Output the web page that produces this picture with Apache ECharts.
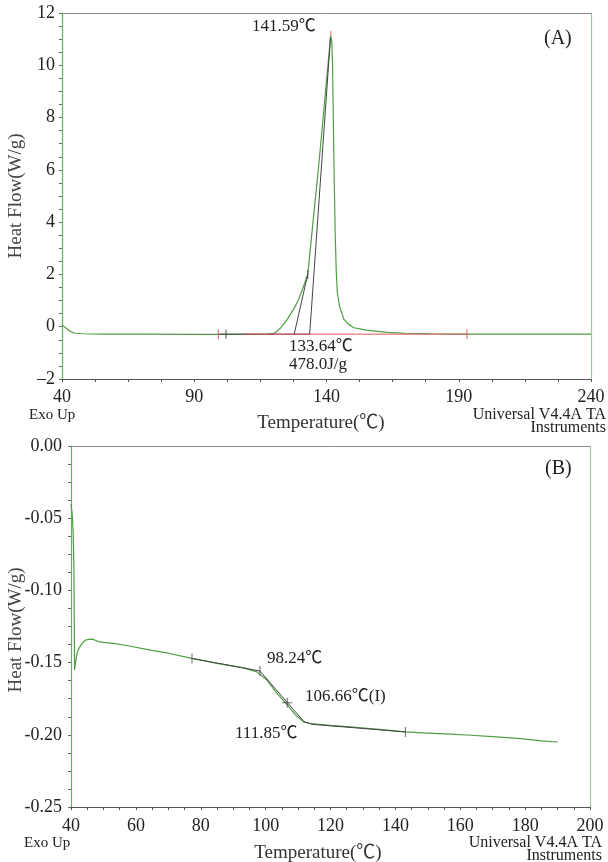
<!DOCTYPE html>
<html>
<head>
<meta charset="utf-8">
<script src="https://cdn.jsdelivr.net/npm/echarts@6/dist/echarts.min.js"></script>
<style>html,body{margin:0;padding:0;background:#fff}#c{width:608px;height:862px}</style>
</head>
<body>
<div id="c"></div>
<script>
// ---- Chart A data (Temperature °C, Heat Flow W/g) ----
const tempA = [40,40.5,41.5,43,45,48,55,70,90,110,118,120,121.2,122.5,123.6,125,126.5,128,129.4,131,132.9,134,135,136,137,138,139,140,141,141.6,142.0,142.3,142.8,143.3,143.7,144.1,145,146.6,148.5,150.4,155,163,170,179.4,190,240];
const heatA = [0.08,0.06,-0.05,-0.18,-0.25,-0.27,-0.28,-0.28,-0.29,-0.29,-0.28,-0.25,-0.18,-0.06,0.08,0.25,0.5,0.75,1.03,1.45,2.0,3.1,4.1,5.1,6.1,7.2,8.3,9.4,10.5,11.15,10.9,10.0,6.3,3.5,2.1,1.3,0.75,0.28,0.08,-0.04,-0.13,-0.22,-0.25,-0.27,-0.28,-0.28];
const onsetTangentA = [[133.64,-0.285],[141.5,11.05]];
const sideTangentA = [[127.8,-0.285],[132.9,2.0]];
const redBaseA = [[108.4,-0.285],[193.1,-0.285]];
const blackBaseA = [[99.1,-0.285],[133.64,-0.285]];
const redTicksA = [[99.1,-0.285],[193.1,-0.285]];
const blackTicksA = [[102,-0.285],[132.9,2.0]];
const peakA = [[141.59,11.2]];
const xTicksA = {min:40,max:240,interval:50};
const yTicksA = {min:-2,max:12,interval:2};

// ---- Chart B data ----
const tempB = [40.0,40.4,40.7,40.9,41.0,41.1,41.4,41.85,42.5,43.4,44.4,45.4,46.5,47.5,48.5,50,53.1,58,64.5,70,77.3,85,90,93.2,97.3,100.4,103.5,106.6,108.2,109.6,111.7,113.5,115.8,120,126.1,135,143,150,156.9,163.3,170,178.7,185,190];
const heatB = [-0.040,-0.048,-0.062,-0.085,-0.120,-0.155,-0.150,-0.1436,-0.140,-0.1367,-0.1345,-0.1339,-0.1337,-0.1345,-0.1355,-0.1360,-0.1367,-0.1385,-0.1413,-0.1435,-0.1471,-0.1506,-0.1524,-0.1537,-0.1564,-0.1621,-0.1713,-0.1790,-0.1835,-0.1870,-0.1910,-0.1920,-0.1926,-0.1935,-0.1945,-0.1962,-0.1980,-0.1988,-0.1996,-0.2003,-0.2013,-0.2026,-0.2042,-0.2050];
const tangentB1 = [[77.3,-0.1471],[98.24,-0.1558]];
const tangentB2 = [[98.24,-0.1558],[111.85,-0.1910]];
const tangentB3 = [[111.85,-0.1910],[114.5,-0.1928],[143.1,-0.1980]];
const vTicksB = [[77.3,-0.1471],[98.24,-0.1558],[106.66,-0.1778],[143.1,-0.1980]];
const hTicksB = [[106.66,-0.1778]];
const xTicksB = {min:40,max:200,interval:20};
const yTicksB = {min:-0.25,max:0,interval:0.05};

const FONT = "'Liberation Serif','Noto Sans CJK KR',serif";
const GREEN = '#4f9e43';
const chart = echarts.init(document.getElementById('c'));

function bottomX(grid, t, labelMargin){
  return {gridIndex:grid, type:'value', position:'bottom', min:t.min, max:t.max, interval:t.interval,
    axisLine:{show:true,onZero:false,lineStyle:{color:'#555',width:1}},
    axisTick:{show:true,length:3,lineStyle:{color:'#555'}},
    minorTick:{show:true,splitNumber:4,length:3,lineStyle:{color:'#555'}},
    splitLine:{show:false},
    axisLabel:{color:'#222',fontFamily:FONT,fontSize:18,margin:labelMargin}};
}
function topX(grid, t){
  return {gridIndex:grid, type:'value', position:'top', min:t.min, max:t.max,
    axisLine:{show:true,onZero:false,lineStyle:{color:'#8a8a8a',width:1}},
    axisTick:{show:false}, axisLabel:{show:false}, splitLine:{show:false}};
}
function leftY(grid, t, fmt, labelMargin){
  return {gridIndex:grid, type:'value', position:'left', min:t.min, max:t.max, interval:t.interval,
    axisLine:{show:true,onZero:false,lineStyle:{color:'#5cb85c',width:1.2}},
    axisTick:{show:true,length:3,lineStyle:{color:'#666'}},
    minorTick:{show:true,splitNumber:4,length:3,lineStyle:{color:'#666'}},
    splitLine:{show:false},
    axisLabel:{color:'#222',fontFamily:FONT,fontSize:18,margin:labelMargin,formatter:fmt}};
}
function rightY(grid, t){
  return {gridIndex:grid, type:'value', position:'right', min:t.min, max:t.max,
    axisLine:{show:true,onZero:false,lineStyle:{color:'#9ccb9a',width:1.2}},
    axisTick:{show:false}, axisLabel:{show:false}, splitLine:{show:false}};
}
const zip = (a,b)=>a.map((v,i)=>[v,b[i]]);
function lineS(xi, yi, data, color, w){
  return {type:'line', xAxisIndex:xi, yAxisIndex:yi, data:data, showSymbol:false, symbol:'none',
    lineStyle:{color:color,width:w}, silent:true, animation:false, z:3};
}
function tickS(xi, yi, data, color, size){
  return {type:'scatter', xAxisIndex:xi, yAxisIndex:yi, data:data, symbol:'rect', symbolSize:size,
    itemStyle:{color:color}, silent:true, animation:false, z:5};
}
function txt(x, y, s, opts){
  return Object.assign({type:'text', x:x, y:y, style:Object.assign({text:s, font:(opts&&opts.size||17)+'px '+FONT, fill:'#222', textAlign:'left', textVerticalAlign:'middle'}, opts&&opts.style||{})}, opts&&opts.extra||{});
}

const option = {
  animation:false,
  backgroundColor:'#fff',
  grid:[{left:62,top:13,width:529,height:366},{left:71,top:446,width:519,height:361}],
  xAxis:[bottomX(0,xTicksA,9), topX(0,xTicksA), bottomX(1,xTicksB,10), topX(1,xTicksB)],
  yAxis:[
    leftY(0,yTicksA,v=>v<0?'\u2013'+Math.abs(v):String(v),7), rightY(0,yTicksA),
    leftY(1,yTicksB,v=>Math.abs(v)<1e-9?'0.00':v.toFixed(2),9), rightY(1,yTicksB)
  ],
  series:[
    lineS(0,0,zip(tempA,heatA),GREEN,1.2),
    lineS(0,0,blackBaseA,'#444',1),
    lineS(0,0,redBaseA,'#e05555',1),
    lineS(0,0,onsetTangentA,'#444',1),
    lineS(0,0,sideTangentA,'#444',1),
    tickS(0,0,redTicksA,'#e05555',[1.2,10]),
    tickS(0,0,blackTicksA,'#444',[1.2,9]),
    tickS(0,0,peakA,'#e88',[1.5,6]),
    lineS(2,2,zip(tempB,heatB),GREEN,1.2),
    lineS(2,2,tangentB1,'#444',1),
    lineS(2,2,tangentB2,'#444',1),
    lineS(2,2,tangentB3,'#444',1),
    tickS(2,2,vTicksB,'#444',[1,10]),
    tickS(2,2,hTicksB,'#444',[10,1])
  ],
  graphic:[
    txt(252,27,'141.59\u2103'),
    txt(544,39,'(A)',{size:20}),
    txt(289,347,'133.64\u2103'),
    txt(289,365,'478.0J/g'),
    txt(29,415,'Exo Up',{size:15}),
    txt(606,415,'Universal V4.4A TA',{size:16,style:{textAlign:'right'}}),
    txt(606,428,'Instruments',{size:16,style:{textAlign:'right'}}),
    txt(321,423,'Temperature(\u2103)',{size:19,style:{textAlign:'center',fill:'#333'}}),
    txt(16,196,'Heat Flow(W/g)',{size:19,style:{textAlign:'center',fill:'#444'},extra:{rotation:Math.PI/2}}),
    txt(545,469,'(B)',{size:20}),
    txt(267,659,'98.24\u2103'),
    txt(305,697,'106.66\u2103(I)'),
    txt(235,734,'111.85\u2103'),
    txt(24,843,'Exo Up',{size:15}),
    txt(602,843,'Universal V4.4A TA',{size:16,style:{textAlign:'right'}}),
    txt(602,856,'Instruments',{size:16,style:{textAlign:'right'}}),
    txt(318,853,'Temperature(\u2103)',{size:19,style:{textAlign:'center',fill:'#333'}}),
    txt(16,630,'Heat Flow(W/g)',{size:19,style:{textAlign:'center',fill:'#444'},extra:{rotation:Math.PI/2}})
  ]
};
chart.setOption(option);
</script>
</body>
</html>
